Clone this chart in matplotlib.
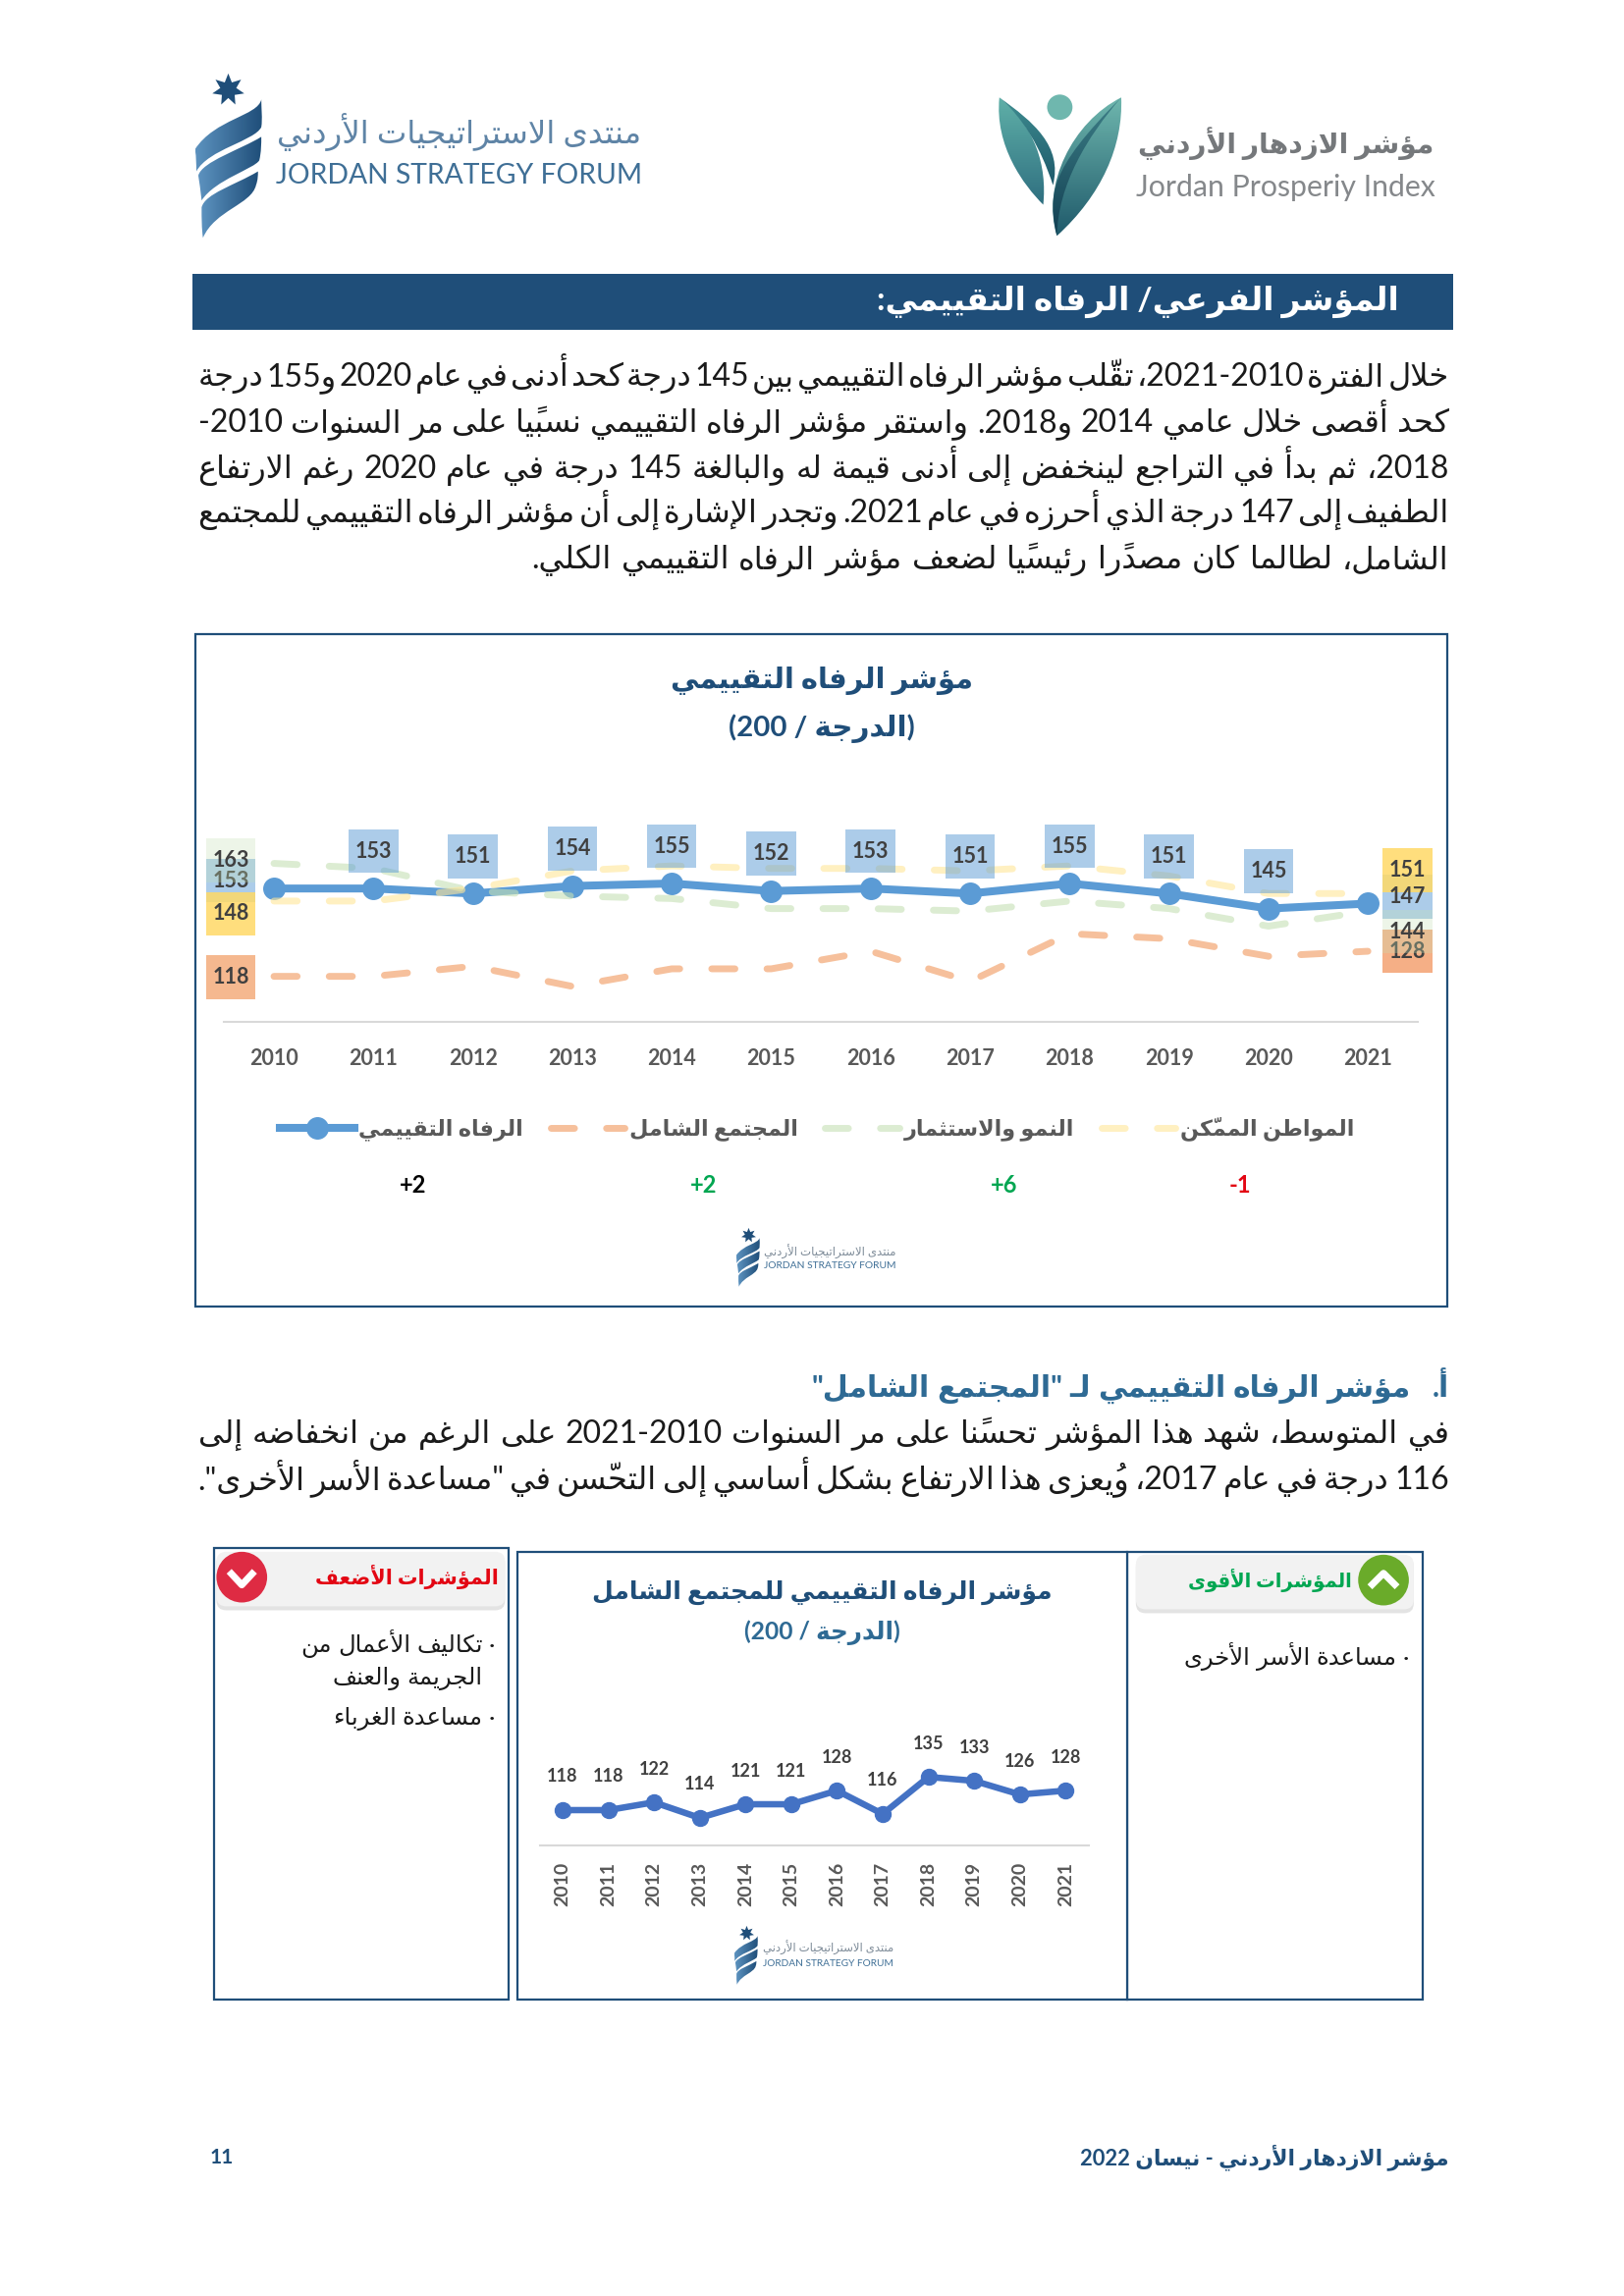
import re
import numpy as np
import matplotlib
matplotlib.use('Agg')
import matplotlib.pyplot as plt
from matplotlib.colors import LinearSegmentedColormap
from matplotlib.patches import Rectangle, FancyBboxPatch, PathPatch, Circle
from matplotlib.path import Path
from matplotlib.lines import Line2D

plt.rcParams['font.family'] = ['Lato', 'DejaVu Sans']

# data
years = ['2010', '2011', '2012', '2013', '2014', '2015', '2016', '2017', '2018', '2019', '2020', '2021']
welfare = [153, 153, 151, 154, 155, 152, 153, 151, 155, 151, 145, 147]
inclusive = [118, 118, 122, 114, 121, 121, 128, 116, 135, 133, 126, 128]
growth = [163, 161, 152, 150, 149, 145, 145, 144, 148, 145, 138, 144]
citizen = [148, 148, 153, 160, 162, 161, 161, 160, 162, 158, 151, 151]

series_names = ['الرفاه التقييمي', 'المجتمع الشامل', 'النمو والاستثمار', 'المواطن الممكّن']
changes = ['+2', '+2', '+6', '-1']

heading = 'المؤشر الفرعي/ الرفاه التقييمي:'
para1 = [
    'خلال الفترة 2021-2010، تقلّب مؤشر الرفاه التقييمي بين 145 درجة كحد أدنى في عام 2020 و155 درجة',
    'كحد أقصى خلال عامي 2014 و2018. واستقر مؤشر الرفاه التقييمي نسبيًا على مر السنوات 2010-',
    '2018، ثم بدأ في التراجع لينخفض إلى أدنى قيمة له والبالغة 145 درجة في عام 2020 رغم الارتفاع',
    'الطفيف إلى 147 درجة الذي أحرزه في عام 2021. وتجدر الإشارة إلى أن مؤشر الرفاه التقييمي للمجتمع',
    'الشامل، لطالما كان مصدرًا رئيسيًا لضعف مؤشر الرفاه التقييمي الكلي.',
]
subheading = 'أ.   مؤشر الرفاه التقييمي لـ "المجتمع الشامل"'
para2 = [
    'في المتوسط، شهد هذا المؤشر تحسنًا على مر السنوات 2021-2010 على الرغم من انخفاضه إلى',
    '116 درجة في عام 2017، ويُعزى هذا الارتفاع بشكل أساسي إلى التحسّن في "مساعدة الأسر الأخرى".',
]

NAVY = '#1F4E79'
BLUE = '#5B9BD5'
ORANGE = '#F4B183'
GREEN = '#C5E0B4'
YELLOW = '#FFE699'

# arabic shaping, matplotlib does not do it by itself
FORMS = {}
_code = 0xFE80
for _ch, _n in [('ء', 1), ('آ', 2), ('أ', 2), ('ؤ', 2), ('إ', 2), ('ئ', 4), ('ا', 2), ('ب', 4), ('ة', 2),
                ('ت', 4), ('ث', 4), ('ج', 4), ('ح', 4), ('خ', 4), ('د', 2), ('ذ', 2), ('ر', 2), ('ز', 2),
                ('س', 4), ('ش', 4), ('ص', 4), ('ض', 4), ('ط', 4), ('ظ', 4), ('ع', 4), ('غ', 4), ('ف', 4),
                ('ق', 4), ('ك', 4), ('ل', 4), ('م', 4), ('ن', 4), ('ه', 4), ('و', 2), ('ى', 2), ('ي', 4)]:
    FORMS[_ch] = [chr(_code + i) for i in range(_n)]
    _code += _n
LAM_ALEF = {'آ': 0xFEF5, 'أ': 0xFEF7, 'إ': 0xFEF9, 'ا': 0xFEFB}
MARKS = 'ًٌٍَُِّْ'
MIRROR = {'(': ')', ')': '('}
LTR_RUN = re.compile(r'[0-9A-Za-z]+(?:[-./:][0-9]+)*')


def is_dual(c):
    return c == 'ـ' or (c in FORMS and len(FORMS[c]) == 4)


def joins(c):
    return c == 'ـ' or (c in FORMS and len(FORMS[c]) > 1)


def ar(s):
    # logical order to visual order with joined letters
    units = []
    i = 0
    while i < len(s):
        m = LTR_RUN.match(s, i)
        if m:
            units.append([m.group(0), ''])
            i = m.end()
            continue
        c = s[i]
        if c in MARKS and units:
            units[-1][1] += c
        else:
            units.append([MIRROR.get(c, c), ''])
        i += 1
    # lam alef ligature
    merged = []
    for u in units:
        if merged and merged[-1][0] == 'ل' and u[0] in LAM_ALEF:
            merged[-1] = ['L' + u[0], merged[-1][1] + u[1]]
        else:
            merged.append(u)
    out = []
    for k, (c, mk) in enumerate(merged):
        prev = merged[k - 1][0] if k > 0 else ' '
        nxt = merged[k + 1][0] if k + 1 < len(merged) else ' '
        if prev.startswith('L') and len(prev) == 2:
            before = False
        else:
            before = is_dual(prev[-1] if len(prev) == 1 else ' ')
        nxt_c = 'ل' if nxt.startswith('L') and len(nxt) == 2 else nxt
        after = joins(nxt_c) if len(nxt_c) == 1 else False
        if c.startswith('L') and len(c) == 2 and c[1] in LAM_ALEF:
            out.append(chr(LAM_ALEF[c[1]] + (1 if before else 0)) + mk)
        elif c in FORMS:
            f = FORMS[c]
            if len(f) == 4:
                idx = {(False, False): 0, (True, False): 1, (False, True): 2, (True, True): 3}[(before, after)]
            elif len(f) == 2:
                idx = 1 if before else 0
            else:
                idx = 0
            out.append(f[idx] + mk)
        else:
            out.append(c + mk)
    return ''.join(reversed(out))


fig = plt.figure(figsize=(16.54, 23.39), dpi=100)
W, H = 1654, 2339
S = 0.993  # page units to output px
page = fig.add_axes([0, 0, 1, 1], zorder=0)
page.set_xlim(0, W / S)
page.set_ylim(H / S, 0)
page.set_autoscale_on(False)
page.axis('off')
renderer = fig.canvas.get_renderer()


def axes_px(x0, x1, y0, y1):
    # page box to figure fractions, y0 is the top
    a = fig.add_axes([x0 * S / W, 1 - y1 * S / H, (x1 - x0) * S / W, (y1 - y0) * S / H], zorder=2)
    a.patch.set_visible(False)
    for s in ['top', 'left', 'right']:
        a.spines[s].set_visible(False)
    a.spines['bottom'].set_color('#D9D9D9')
    a.spines['bottom'].set_linewidth(1.5)
    a.set_yticks([])
    return a


def txt_width(s, fs, weight='normal'):
    t = page.text(0, 0, s, fontsize=fs, fontweight=weight)
    w = t.get_window_extent(renderer).width
    t.remove()
    return w / S


def fit(x0, x1, y, s, fs, color, weight='normal', rtl=True):
    # text squeezed to the width it has in the page
    vis = ar(s) if rtl else s
    fs2 = fs * (x1 - x0) / txt_width(vis, fs, weight)
    page.text((x0 + x1) / 2, y, vis, fontsize=fs2, color=color, fontweight=weight, ha='center', va='center')


def para_line(s, y, fs, color='#1a1a1a', x0=203, x1=1486, justify=True, weight='normal'):
    words = [ar(w) for w in s.split(' ')]
    widths = [txt_width(w, fs, weight) for w in words]
    space = txt_width('a a', fs, weight) - txt_width('aa', fs, weight)
    gap = (x1 - x0 - sum(widths)) / max(len(words) - 1, 1) if justify else space
    x = x1
    for w, wd in zip(words, widths):
        page.text(x, y, w, fontsize=fs, color=color, fontweight=weight, ha='right', va='baseline')
        x -= wd + gap


def bez(verts):
    # M then cubic segments, closed
    codes = [Path.MOVETO] + [Path.CURVE4] * (len(verts) - 1)
    return Path(verts, codes)


def grad_shape(verts, c1, c2, vertical=False):
    # shape filled with a two colour ramp
    path = bez(verts)
    p = PathPatch(path, fc='none', ec='none', transform=page.transData)
    page.add_patch(p)
    xs, ys = zip(*verts)
    ramp = np.linspace(0, 1, 64).reshape(-1, 1) if vertical else np.linspace(0, 1, 64).reshape(1, -1)
    cm = LinearSegmentedColormap.from_list('r', [c1, c2])
    im = page.imshow(ramp, cmap=cm, extent=(min(xs), max(xs), max(ys), min(ys)), aspect='auto', zorder=1.5)
    im.set_clip_path(p)


def forum_logo(x0, y0, w, h, star_ms):
    bands = [
        [(1, 0), (.95, .12), (.3, .14), (0, .36), (.02, .42), (.02, .47), (.02, .52), (.2, .36), (.9, .3), (1, .2), (1.02, .14), (1, .06), (1, 0)],
        [(1, .27), (.7, .36), (.1, .45), (.05, .55), (.07, .6), (.08, .66), (.1, .73), (.3, .58), (.9, .5), (.97, .44), (1, .38), (1, .32), (1, .27)],
        [(.95, .52), (.6, .62), (.15, .68), (.1, .78), (.1, .86), (.1, .93), (.12, 1), (.3, .8), (.85, .76), (.92, .62), (.95, .58), (.95, .55), (.95, .52)],
    ]
    for b in bands:
        pts = [(x0 + u * w, y0 + v * h) for u, v in b]
        grad_shape(pts, '#5C92BF', '#1F4E79')
    page.plot([x0 + .5 * w], [y0 - .07 * h], marker=(7, 1, 0), ms=star_ms, color=NAVY, mew=0)


def tall_box(x0, y0, width, height, mutation_size):
    # label box has one fixed size in the reference
    cx, cy = x0 + width / 2, y0 + height / 2
    hw, hh = 25.5 * S, 22.5 * S
    return Path([(cx - hw, cy - hh), (cx + hw, cy - hh), (cx + hw, cy + hh), (cx - hw, cy + hh), (cx - hw, cy - hh)], closed=True)


# page header
fit(284, 657, 135, 'منتدى الاستراتيجيات الأردني', 20, '#5F84A6')
fit(283, 658, 180, 'JORDAN STRATEGY FORUM', 24, '#3F6F96', rtl=False)
forum_logo(200, 102, 68, 142, 24)

grad_shape([(1025, 100), (1020, 150), (1050, 190), (1070, 210), (1074, 170), (1062, 130), (1025, 100)], '#5FB0A8', '#2F6F80', vertical=True)
grad_shape([(1025, 100), (1060, 125), (1090, 150), (1080, 190), (1075, 175), (1060, 130), (1025, 100)], '#3E8C90', '#1F5A6B', vertical=True)
grad_shape([(1150, 100), (1100, 125), (1068, 190), (1084, 242), (1130, 200), (1152, 150), (1150, 100)], '#6FB7AE', '#1F5A6B', vertical=True)
grad_shape([(1150, 100), (1115, 140), (1085, 190), (1084, 242), (1075, 200), (1075, 175), (1150, 100)], '#3E8088', '#123F52', vertical=True)
page.add_patch(Circle((1087, 110), 13, fc='#6FB7AE', ec='none'))
fit(1167, 1470, 147, 'مؤشر الازدهار الأردني', 20, '#75787B', weight='bold')
fit(1165, 1472, 192, 'Jordan Prosperiy Index', 24, '#85888B', rtl=False)

# band
page.add_patch(Rectangle((197, 281), 1293, 57, fc=NAVY, ec='none'))
fit(900, 1434, 310, heading, 22, 'white', weight='bold')

# paragraphs
para_ys = [396, 443, 490, 536, 583]
for k, line in enumerate(para1):
    para_line(line, para_ys[k], 23, x0=203 if k < 4 else 545)

# first chart
page.add_patch(Rectangle((200, 651), 1284, 689, fc='white', ec=NAVY, lw=1.6))
fit(688, 997, 698, 'مؤشر الرفاه التقييمي', 20, NAVY, weight='bold')
fit(748, 938, 747, '(الدرجة / 200)', 20, NAVY, weight='bold')

ax = axes_px(230, 1454, 842, 1048)
ax.set_xlim(-.5, 11.5)
ax.set_ylim(100, 180)
x = list(range(len(years)))
dash = (0, (3.4, 4.7))
ax.plot(x, welfare, color=BLUE, lw=5.8, marker='o', ms=15.5, zorder=2, label=series_names[0])
ax.plot(x, inclusive, color=ORANGE, alpha=.8, lw=5, ls=dash, dash_capstyle='round', zorder=3, label=series_names[1])
ax.plot(x, growth, color=GREEN, alpha=.6, lw=5, ls=dash, dash_capstyle='round', zorder=3.1, label=series_names[2])
ax.plot(x, citizen, color=YELLOW, alpha=.6, lw=5, ls=dash, dash_capstyle='round', zorder=3.2, label=series_names[3])
ax.set_xticks(x, years)
ax.tick_params(axis='x', length=0, pad=20, labelsize=15.5, labelcolor='#595959')
for t in ax.get_xticklabels():
    t.set_fontweight('bold')


def value_label(i, vals, dx, dy, fc, a, z, on_top=False):
    # dx, dy in px, up is positive
    ax.annotate(str(vals[i]), (i, vals[i]), xytext=(dx * .72, dy * .72), textcoords='offset points',
                ha='center', va='center', fontsize=15.5, fontweight='bold',
                color='none' if on_top else '#404040', zorder=z,
                bbox=dict(boxstyle=tall_box, fc=fc, ec='none', alpha=a))
    if on_top:
        ax.annotate(str(vals[i]), (i, vals[i]), xytext=(dx * .72, dy * .72), textcoords='offset points',
                    ha='center', va='center', fontsize=15.5, fontweight='bold', color='#404040', zorder=5)


value_label(0, inclusive, -44, -1, '#F4B183', .9, 4)
value_label(11, inclusive, 40, 0, '#F4A679', .9, 4)
for i in range(1, 11):
    value_label(i, welfare, 0, 38, '#5B9BD5', .5, 4.1)
value_label(0, welfare, -44, 8, '#5B9BD5', .5, 4.1)
value_label(11, welfare, 40, 7, '#5B9BD5', .5, 4.1, on_top=True)
value_label(0, citizen, -44, -13, '#FFD966', .85, 4.2)
value_label(11, citizen, 40, 24, '#FFD966', .85, 4.2)
value_label(0, growth, -44, 3, '#C5E0B4', .3, 4.3)
value_label(11, growth, 40, -21, '#C5E0B4', .3, 4.3)

handles = [
    Line2D([], [], color=BLUE, lw=5.8, marker='o', ms=15.5),
    Line2D([], [], color=ORANGE, alpha=.8, lw=5, ls=dash, dash_capstyle='round'),
    Line2D([], [], color=GREEN, alpha=.6, lw=5, ls=dash, dash_capstyle='round'),
    Line2D([], [], color=YELLOW, alpha=.6, lw=5, ls=dash, dash_capstyle='round'),
]
ax.legend(handles, [ar(n) for n in series_names], loc='center', ncols=4, frameon=False,
          bbox_to_anchor=(838, 1158), bbox_transform=page.transData,
          labelcolor='#595959', handlelength=3.4, handletextpad=.2, columnspacing=1.25,
          prop={'weight': 'bold', 'size': 16})

for xp, ch, col in zip([424, 722, 1030, 1272], changes, ['black', '#00A651', '#00A651', '#E30613']):
    page.text(xp, 1216, ch, fontsize=17, fontweight='bold', color=col, ha='center', va='center')

forum_logo(755, 1270, 24, 50, 11)
fit(783, 919, 1284, 'منتدى الاستراتيجيات الأردني', 7, '#7F8C99')
fit(783, 919, 1299, 'JORDAN STRATEGY FORUM', 7, '#3F6F96', rtl=False)

# section a
para_line(subheading, 1433, 21.5, color='#2E6A94', justify=False, weight='bold')
para_line(para2[0], 1480, 23)
para_line(para2[1], 1528, 23)

# bottom panels
page.add_patch(Rectangle((220, 1588), 302, 463, fc='white', ec=NAVY, lw=1.6))
page.add_patch(Rectangle((1156, 1592), 303, 459, fc='white', ec=NAVY, lw=1.6))
page.add_patch(Rectangle((531, 1592), 625, 459, fc='white', ec=NAVY, lw=1.6))

page.add_patch(FancyBboxPatch((222, 1594), 296, 58, boxstyle='round,pad=0,rounding_size=10', fc='#E3E3E3', ec='none'))
page.add_patch(FancyBboxPatch((222, 1592), 296, 56, boxstyle='round,pad=0,rounding_size=10', fc='#F2F2F2', ec='none'))
page.add_patch(Circle((248, 1618), 26, fc='#DE2B43', ec='none', zorder=3))
page.plot([235, 248, 261], [1612, 1626, 1612], color='white', lw=5, zorder=4, solid_capstyle='butt')
fit(323, 511, 1618, 'المؤشرات الأضعف', 15, '#E30613', weight='bold')
para_line('· تكاليف الأعمال من', 1695, 17.5, x0=308, x1=508, justify=False)
para_line('الجريمة والعنف', 1728, 17.5, x0=338, x1=495, justify=False)
para_line('· مساعدة الغرباء', 1769, 17.5, x0=334, x1=508, justify=False)

page.add_patch(FancyBboxPatch((1165, 1597), 285, 58, boxstyle='round,pad=0,rounding_size=10', fc='#E3E3E3', ec='none'))
page.add_patch(FancyBboxPatch((1165, 1595), 285, 56, boxstyle='round,pad=0,rounding_size=10', fc='#F2F2F2', ec='none'))
page.add_patch(Circle((1419, 1621), 26, fc='#6AAB2A', ec='none', zorder=3))
page.plot([1405, 1419, 1433], [1628, 1614, 1628], color='white', lw=5, zorder=4, solid_capstyle='butt')
fit(1218, 1386, 1621, 'المؤشرات الأقوى', 15, '#00A651', weight='bold')
para_line('· مساعدة الأسر الأخرى', 1708, 17.5, x0=1215, x1=1445, justify=False)

fit(608, 1079, 1634, 'مؤشر الرفاه التقييمي للمجتمع الشامل', 20, NAVY, weight='bold')
fit(763, 923, 1675, '(الدرجة / 200)', 17, '#2E6A94', weight='bold')

ax2 = axes_px(553.5, 1116.5, 1793, 1893)
ax2.set_xlim(-.5, 11.5)
ax2.set_ylim(100, 150)
ax2.plot(x, inclusive, color='#4472C4', lw=4.7, marker='o', ms=11.5)
for i, v in enumerate(inclusive):
    ax2.annotate(str(v), (i, v), xytext=(0, 24.5), textcoords='offset points', ha='center', va='center',
                 fontsize=13, fontweight='bold', color='#404040')
ax2.set_xticks(x, years, rotation=90)
ax2.tick_params(axis='x', length=0, pad=12, labelsize=14, labelcolor='#595959')
for t in ax2.get_xticklabels():
    t.set_fontweight('bold')

forum_logo(753, 1986, 24, 50, 11)
fit(782, 917, 1998, 'منتدى الاستراتيجيات الأردني', 7, '#7F8C99')
fit(782, 917, 2015, 'JORDAN STRATEGY FORUM', 7, '#3F6F96', rtl=False)

# footer
fit(1108, 1486, 2213, 'مؤشر الازدهار الأردني - نيسان 2022', 16, NAVY, weight='bold')
page.text(227, 2213, '11', fontsize=15, fontweight='bold', color=NAVY, ha='center', va='center')

fig.savefig('out.png', dpi=100)
